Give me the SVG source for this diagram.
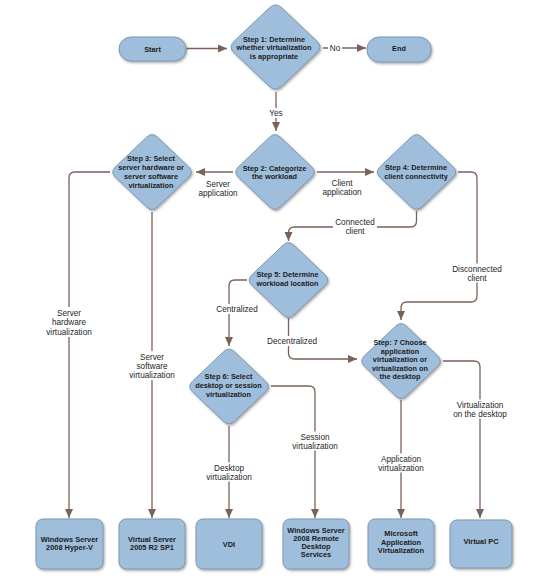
<svg xmlns="http://www.w3.org/2000/svg" width="537" height="579" viewBox="0 0 537 579">
<style>
.n{fill:#9fbedb;stroke:#7d99b4;stroke-width:1;filter:url(#sh)}
.t{font-family:"Liberation Sans",Arial,sans-serif;font-weight:bold;font-size:7.3px;fill:#1b1b22;text-anchor:middle}
.bt{font-family:"Liberation Sans",Arial,sans-serif;font-weight:bold;font-size:7.4px;fill:#1b1b22;text-anchor:middle}
.l{font-family:"Liberation Sans",Arial,sans-serif;font-size:8.2px;fill:#262626;text-anchor:middle}
.c{fill:none;stroke:#7b6258;stroke-width:1.3}
.bg{fill:#fff}
</style>
<defs>
<filter id="sh" x="-20%" y="-20%" width="140%" height="140%">
<feDropShadow dx="1.2" dy="1.5" stdDeviation="0.9" flood-color="#666" flood-opacity="0.55"/>
</filter>
<marker id="ah" markerUnits="userSpaceOnUse" markerWidth="10" markerHeight="10" viewBox="0 0 10 10" refX="9" refY="5" orient="auto">
<path d="M0,1 L9,5 L0,9 Z" fill="#7b6258"/>
</marker>
<path id="dia" d="M5.46,-34.8 L36.54,-5.2 Q42,0 36.54,5.2 L5.46,34.8 Q0,40 -5.46,34.8 L-36.54,5.2 Q-42,0 -36.54,-5.2 L-5.46,-34.8 Q0,-40 5.46,-34.8Z"/>
</defs>
<rect width="537" height="579" fill="#fff"/>

<g id="connectors">
<path class="c" marker-end="url(#ah)" d="M186,48.5 L227,48.5"/>
<path class="c" marker-end="url(#ah)" d="M323,48 L366,48"/>
<path class="c" marker-end="url(#ah)" d="M276,92 L276,131"/>
<path class="c" marker-end="url(#ah)" d="M233,172 L196,172"/>
<path class="c" marker-end="url(#ah)" d="M317,172 L374,172"/>
<path class="c" marker-end="url(#ah)" d="M416.5,211 L416.5,221 Q416.5,227 410.5,227 L294.5,227 Q288.5,227 288.5,233 L288.5,241"/>
<path class="c" marker-end="url(#ah)" d="M458,172 L471,172 Q477,172 477,178 L477,296 Q477,302 471,302 L407,302 Q401,302 401,308 L401,320"/>
<path class="c" marker-end="url(#ah)" d="M110,172 L75,172 Q69,172 69,178 L69,518"/>
<path class="c" marker-end="url(#ah)" d="M152,212 L152,518"/>
<path class="c" marker-end="url(#ah)" d="M247,280 L235,280 Q229,280 229,286 L229,346"/>
<path class="c" marker-end="url(#ah)" d="M288.5,318 L288.5,353 Q288.5,359 294.5,359 L357,359"/>
<path class="c" marker-end="url(#ah)" d="M229,426 L229,518"/>
<path class="c" marker-end="url(#ah)" d="M271,386 L309,386 Q315,386 315,392 L315,518"/>
<path class="c" marker-end="url(#ah)" d="M401,400 L401,518"/>
<path class="c" marker-end="url(#ah)" d="M443,361 L474,361 Q480,361 480,367 L480,518"/>
</g>

<g id="labels">
<rect class="bg" x="328" y="43" width="14" height="10"/>
<text class="l" x="335" y="51">No</text>
<rect class="bg" x="267" y="108" width="18" height="10"/>
<text class="l" x="276" y="116">Yes</text>
<text class="l" x="218" y="187.3">Server</text>
<text class="l" x="218" y="195.8">application</text>
<text class="l" x="342" y="186">Client</text>
<text class="l" x="342" y="195">application</text>
<rect class="bg" x="333" y="216.5" width="44" height="19"/>
<text class="l" x="355" y="225">Connected</text>
<text class="l" x="355" y="234">client</text>
<rect class="bg" x="451" y="263.5" width="52" height="19"/>
<text class="l" x="477" y="272">Disconnected</text>
<text class="l" x="477" y="281">client</text>
<rect class="bg" x="44" y="307" width="50" height="30"/>
<text class="l" x="69" y="316">Server</text>
<text class="l" x="69" y="325.3">hardware</text>
<text class="l" x="69" y="334.6">virtualization</text>
<rect class="bg" x="127" y="351" width="50" height="29"/>
<text class="l" x="152" y="360">Server</text>
<text class="l" x="152" y="369">software</text>
<text class="l" x="152" y="377.8">virtualization</text>
<rect class="bg" x="215" y="304" width="44" height="10"/>
<text class="l" x="237" y="312">Centralized</text>
<rect class="bg" x="265" y="336" width="54" height="10"/>
<text class="l" x="292" y="344">Decentralized</text>
<rect class="bg" x="204" y="462.5" width="50" height="19"/>
<text class="l" x="229" y="471">Desktop</text>
<text class="l" x="229" y="480">virtualization</text>
<rect class="bg" x="290" y="431.5" width="50" height="19"/>
<text class="l" x="315" y="440">Session</text>
<text class="l" x="315" y="449">virtualization</text>
<rect class="bg" x="376" y="453.5" width="50" height="19"/>
<text class="l" x="401" y="462">Application</text>
<text class="l" x="401" y="471">virtualization</text>
<rect class="bg" x="452" y="399.5" width="56" height="19"/>
<text class="l" x="480" y="408">Virtualization</text>
<text class="l" x="480" y="417">on the desktop</text>
</g>

<g id="start">
<rect class="n" x="119" y="37" width="67" height="24" rx="12"/>
<text class="t" x="152.5" y="51.6">Start</text>
</g>
<g id="end">
<rect class="n" x="367" y="37" width="64" height="25" rx="12"/>
<text class="t" x="399" y="51.3">End</text>
</g>
<g id="step1">
<path class="n" transform="translate(275.5,47)" d="M6.18,-39.15 L41.33,-5.85 Q47.5,0 41.33,5.85 L6.18,39.15 Q0,45 -6.18,39.15 L-41.33,5.85 Q-47.5,0 -41.33,-5.85 L-6.18,-39.15 Q0,-45 6.18,-39.15Z"/>
<text class="t" x="274" y="41.9">Step 1: Determine</text>
<text class="t" x="274" y="50.3">whether virtualization</text>
<text class="t" x="274" y="58.7">is appropriate</text>
</g>
<g id="step2">
<use href="#dia" class="n" transform="translate(275,172)"/>
<text class="t" x="274.5" y="171">Step 2: Categorize</text>
<text class="t" x="274.5" y="179.4">the workload</text>
</g>
<g id="step3">
<use href="#dia" class="n" transform="translate(152,172)"/>
<text class="t" x="151" y="161">Step 3: Select</text>
<text class="t" x="151" y="170">server hardware or</text>
<text class="t" x="151" y="179">server software</text>
<text class="t" x="151" y="188">virtualization</text>
</g>
<g id="step4">
<use href="#dia" class="n" transform="translate(416.5,172)"/>
<text class="t" x="416" y="170.3">Step 4: Determine</text>
<text class="t" x="416" y="178.7">client connectivity</text>
</g>
<g id="step5">
<use href="#dia" class="n" transform="translate(288.5,280)"/>
<text class="t" x="287.5" y="277">Step 5: Determine</text>
<text class="t" x="287.5" y="286">workload location</text>
</g>
<g id="step6">
<use href="#dia" class="n" transform="translate(229,386.5)"/>
<text class="t" x="228.5" y="379.3">Step 6: Select</text>
<text class="t" x="228.5" y="388.3">desktop or session</text>
<text class="t" x="228.5" y="397">virtualization</text>
</g>
<g id="step7">
<use href="#dia" class="n" transform="translate(401,361)"/>
<text class="t" x="400" y="345">Step: 7 Choose</text>
<text class="t" x="400" y="353.6">application</text>
<text class="t" x="400" y="362.2">virtualization or</text>
<text class="t" x="400" y="370.8">virtualization on</text>
<text class="t" x="400" y="379.4">the desktop</text>
</g>

<g id="hyperv">
<rect class="n" x="36" y="519" width="67" height="50" rx="7"/>
<text class="bt" x="69.5" y="542">Windows Server</text>
<text class="bt" x="69.5" y="550.3">2008 Hyper-V</text>
</g>
<g id="virtualserver">
<rect class="n" x="119" y="519" width="66" height="50" rx="7"/>
<text class="bt" x="152" y="542">Virtual Server</text>
<text class="bt" x="152" y="550.3">2005 R2 SP1</text>
</g>
<g id="vdi">
<rect class="n" x="196" y="519" width="66" height="50" rx="7"/>
<text class="bt" x="229" y="546.6">VDI</text>
</g>
<g id="rds">
<rect class="n" x="283" y="519" width="66" height="50" rx="7"/>
<text class="bt" x="316" y="532.6">Windows Server</text>
<text class="bt" x="316" y="540.6">2008 Remote</text>
<text class="bt" x="316" y="548.6">Desktop</text>
<text class="bt" x="316" y="556.6">Services</text>
</g>
<g id="appv">
<rect class="n" x="368" y="519" width="66" height="50" rx="7"/>
<text class="bt" x="401" y="536">Microsoft</text>
<text class="bt" x="401" y="544.6">Application</text>
<text class="bt" x="401" y="553.3">Virtualization</text>
</g>
<g id="virtualpc">
<rect class="n" x="450" y="520" width="62" height="48" rx="7"/>
<text class="bt" x="481" y="544.3">Virtual PC</text>
</g>
</svg>
